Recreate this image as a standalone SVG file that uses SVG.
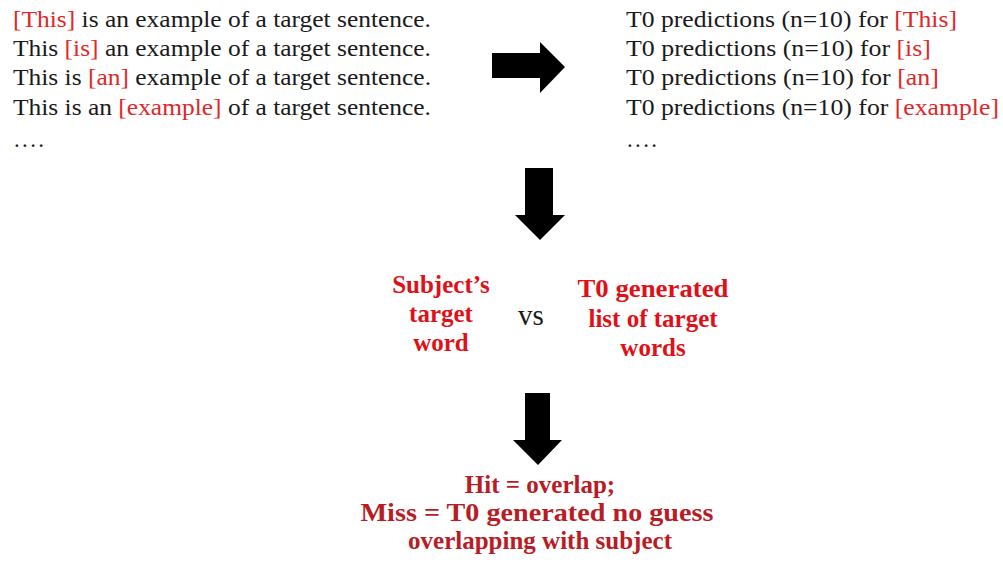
<svg xmlns="http://www.w3.org/2000/svg" width="1003" height="562" viewBox="0 0 1003 562">
<style>
.t{font-family:"Liberation Serif","Times New Roman",serif;font-size:23px;fill:#1a1a1a}
.r{fill:#e02828}
.b{font-family:"Liberation Serif","Times New Roman",serif;font-size:25px;font-weight:bold;fill:#e01018;text-anchor:middle}
.d{font-family:"Liberation Serif","Times New Roman",serif;font-size:25px;font-weight:bold;fill:#b81c24;text-anchor:middle}
.arrow{fill:#000}
</style>
<rect width="1003" height="562" fill="#fff"/>
<g id="sentences">
<text class="t" x="13" y="27" textLength="418" lengthAdjust="spacingAndGlyphs"><tspan class="r">[This]</tspan> is an example of a target sentence.</text>
<text class="t" x="13" y="56" textLength="418" lengthAdjust="spacingAndGlyphs">This <tspan class="r">[is]</tspan> an example of a target sentence.</text>
<text class="t" x="13" y="85" textLength="418" lengthAdjust="spacingAndGlyphs">This is <tspan class="r">[an]</tspan> example of a target sentence.</text>
<text class="t" x="13" y="115" textLength="418" lengthAdjust="spacingAndGlyphs">This is an <tspan class="r">[example]</tspan> of a target sentence.</text>
<text class="t" x="14" y="147" textLength="30">....</text>
</g>
<g id="predictions">
<text class="t" x="626" y="27" textLength="331" lengthAdjust="spacingAndGlyphs">T0 predictions (n=10) for <tspan class="r">[This]</tspan></text>
<text class="t" x="626" y="56" textLength="305" lengthAdjust="spacingAndGlyphs">T0 predictions (n=10) for <tspan class="r">[is]</tspan></text>
<text class="t" x="626" y="85" textLength="313" lengthAdjust="spacingAndGlyphs">T0 predictions (n=10) for <tspan class="r">[an]</tspan></text>
<text class="t" x="626" y="115" textLength="373" lengthAdjust="spacingAndGlyphs">T0 predictions (n=10) for <tspan class="r">[example]</tspan></text>
<text class="t" x="627" y="147" textLength="30">....</text>
</g>
<g id="comparison">
<text class="b" x="441" y="293">Subject’s</text>
<text class="b" x="441" y="322">target</text>
<text class="b" x="441" y="351">word</text>
<text x="531" y="325" style="font-family:'Liberation Serif',serif;font-size:29px;fill:#1a1a1a;text-anchor:middle">vs</text>
<text class="b" x="653" y="297" textLength="151" lengthAdjust="spacingAndGlyphs">T0 generated</text>
<text class="b" x="653" y="327">list of target</text>
<text class="b" x="653" y="356">words</text>
</g>
<g id="result">
<text class="d" x="540" y="493">Hit = overlap;</text>
<text class="d" x="537" y="521" textLength="353" lengthAdjust="spacingAndGlyphs">Miss = T0 generated no guess</text>
<text class="d" x="540" y="549">overlapping with subject</text>
</g>
<g id="connectors">
<polygon class="arrow" points="492,53 540,53 540,42 565,67 540,93 540,78 492,78"/>
<polygon class="arrow" points="525,168 553,168 553,215 565,215 540,240 515,215 525,215"/>
<polygon class="arrow" points="525,393 550,393 550,440 562,440 538,465 513,440 525,440"/>
</g>
</svg>
